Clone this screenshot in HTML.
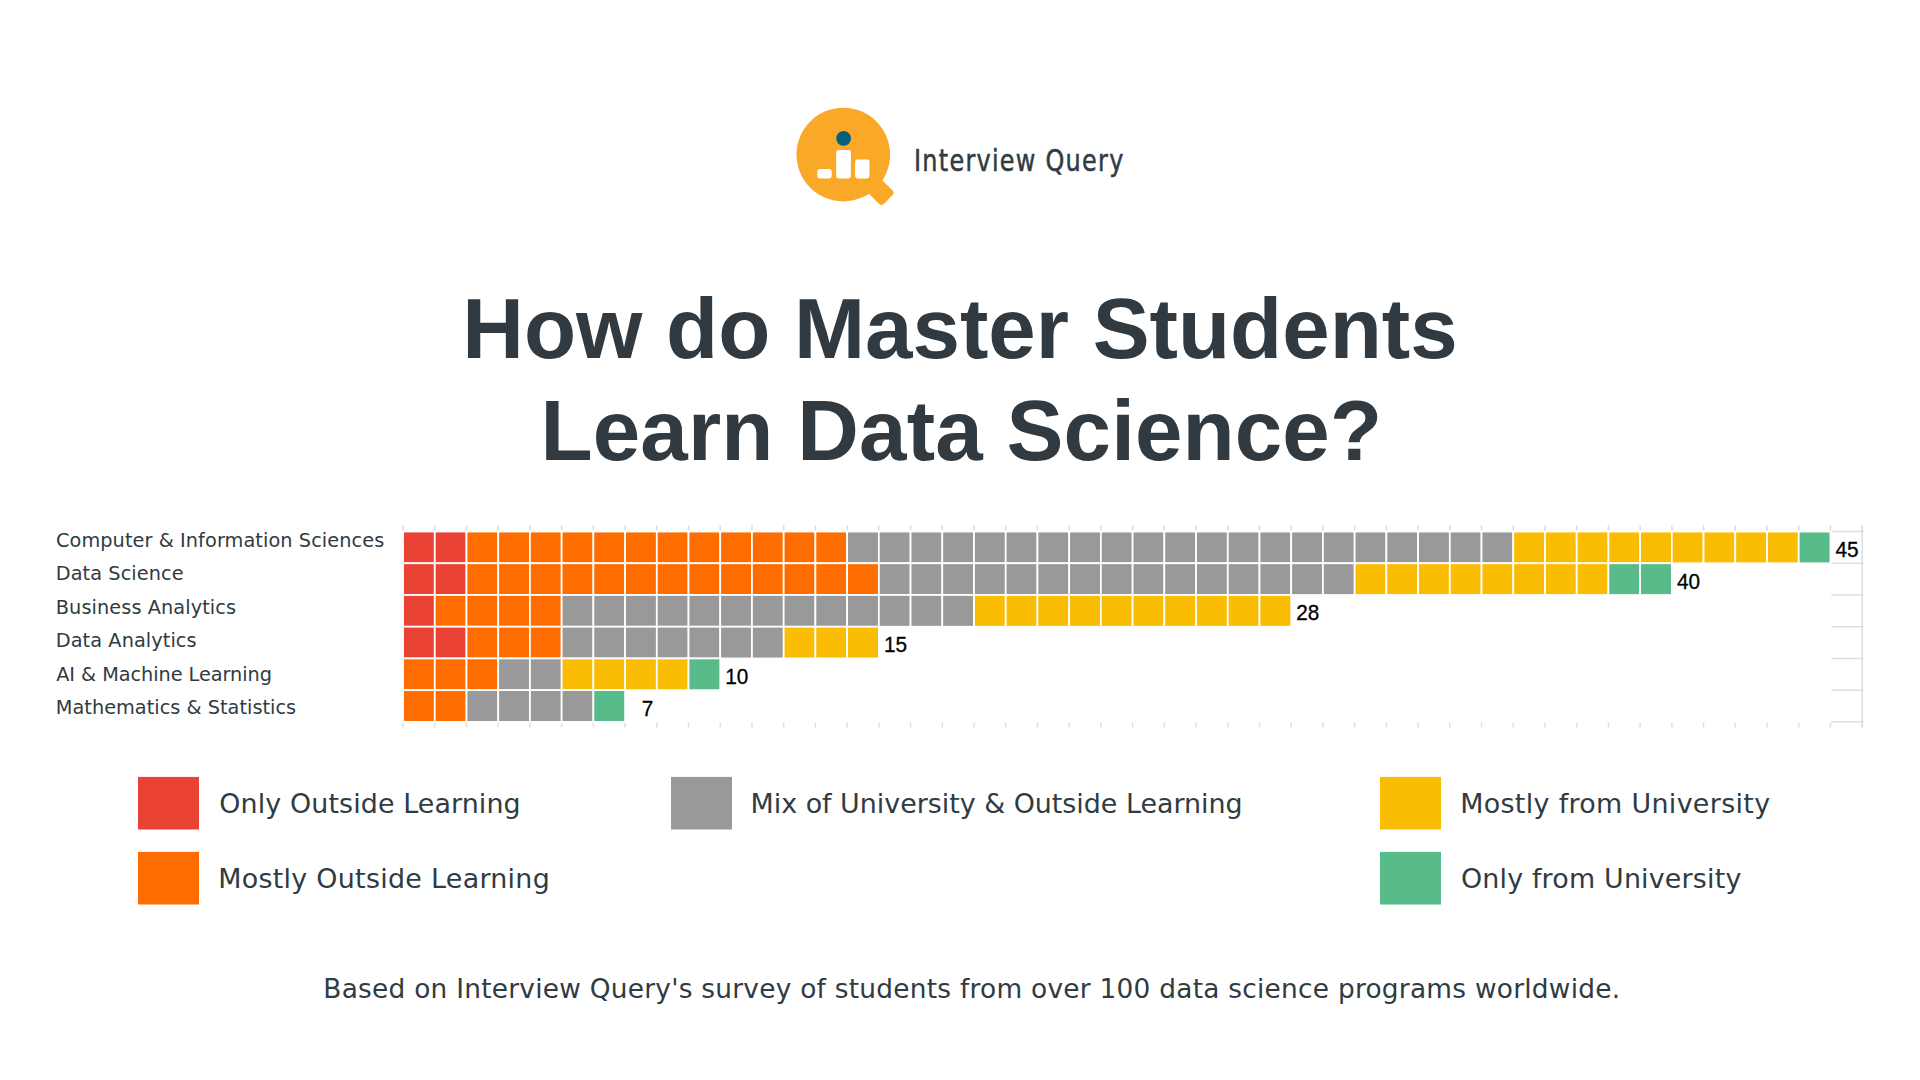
<!DOCTYPE html>
<html lang="en">
<head>
<meta charset="utf-8">
<title>How do Master Students Learn Data Science?</title>
<style>
html,body{margin:0;padding:0;background:#fff;}
body{width:1920px;height:1080px;position:relative;overflow:hidden;font-family:"Liberation Sans",sans-serif;color:#303b42;}
.abs{position:absolute;white-space:nowrap;transform-origin:0 0;line-height:1;}
.title{font-weight:bold;color:#303a40;}
.lab,.leg,.foot{font-family:"DejaVu Sans","Liberation Sans",sans-serif;}
svg{position:absolute;left:0;top:0;}
#chart rect{stroke:#fff;stroke-width:1.75;}
.num{font-family:"Liberation Sans",sans-serif;font-size:21.5px;fill:#000;stroke:#000;stroke-width:0.3px;}
.brand{font-family:"DejaVu Sans Condensed","DejaVu Sans","Liberation Sans",sans-serif;font-stretch:condensed;color:#303b42;-webkit-text-stroke:0.5px #303b42;}
</style>
</head>
<body>
<!-- LOGO -->
<svg width="1920" height="1080" viewBox="0 0 1920 1080">
<g id="logo" fill="#f9a828">
<circle cx="843.3" cy="154.6" r="46.8"/>
<rect x="30" y="-9.5" width="33.5" height="19" rx="3.6" transform="translate(843.3 154.6) rotate(45)"/>
<circle cx="843.6" cy="138.45" r="7.35" fill="#06607b"/>
<rect x="817.3" y="168.9" width="14.4" height="9.5" rx="2.4" fill="#fff"/>
<rect x="836.2" y="149.9" width="14.7" height="28.5" rx="2.4" fill="#fff"/>
<rect x="855.1" y="159.4" width="14.4" height="19" rx="2.4" fill="#fff"/>
</g>
<g id="chart">
<path d="M403.05 525.2V530.75M403.05 722.77V727.6M434.77 525.2V530.75M434.77 722.77V727.6M466.49 525.2V530.75M466.49 722.77V727.6M498.21 525.2V530.75M498.21 722.77V727.6M529.93 525.2V530.75M529.93 722.77V727.6M561.65 525.2V530.75M561.65 722.77V727.6M593.37 525.2V530.75M593.37 722.77V727.6M625.09 525.2V530.75M625.09 722.77V727.6M656.81 525.2V530.75M656.81 722.77V727.6M688.53 525.2V530.75M688.53 722.77V727.6M720.25 525.2V530.75M720.25 722.77V727.6M751.97 525.2V530.75M751.97 722.77V727.6M783.69 525.2V530.75M783.69 722.77V727.6M815.41 525.2V530.75M815.41 722.77V727.6M847.13 525.2V530.75M847.13 722.77V727.6M878.85 525.2V530.75M878.85 722.77V727.6M910.57 525.2V530.75M910.57 722.77V727.6M942.29 525.2V530.75M942.29 722.77V727.6M974.01 525.2V530.75M974.01 722.77V727.6M1005.73 525.2V530.75M1005.73 722.77V727.6M1037.45 525.2V530.75M1037.45 722.77V727.6M1069.17 525.2V530.75M1069.17 722.77V727.6M1100.89 525.2V530.75M1100.89 722.77V727.6M1132.61 525.2V530.75M1132.61 722.77V727.6M1164.33 525.2V530.75M1164.33 722.77V727.6M1196.05 525.2V530.75M1196.05 722.77V727.6M1227.77 525.2V530.75M1227.77 722.77V727.6M1259.49 525.2V530.75M1259.49 722.77V727.6M1291.21 525.2V530.75M1291.21 722.77V727.6M1322.93 525.2V530.75M1322.93 722.77V727.6M1354.65 525.2V530.75M1354.65 722.77V727.6M1386.37 525.2V530.75M1386.37 722.77V727.6M1418.09 525.2V530.75M1418.09 722.77V727.6M1449.81 525.2V530.75M1449.81 722.77V727.6M1481.53 525.2V530.75M1481.53 722.77V727.6M1513.25 525.2V530.75M1513.25 722.77V727.6M1544.97 525.2V530.75M1544.97 722.77V727.6M1576.69 525.2V530.75M1576.69 722.77V727.6M1608.41 525.2V530.75M1608.41 722.77V727.6M1640.13 525.2V530.75M1640.13 722.77V727.6M1671.85 525.2V530.75M1671.85 722.77V727.6M1703.57 525.2V530.75M1703.57 722.77V727.6M1735.29 525.2V530.75M1735.29 722.77V727.6M1767.01 525.2V530.75M1767.01 722.77V727.6M1798.73 525.2V530.75M1798.73 722.77V727.6M1830.45 525.2V530.75M1830.45 722.77V727.6M1862.17 525.2V530.75M1862.17 722.77V727.6" stroke="#dedede" stroke-width="1.5" fill="none"/>
<path d="M1831.25 531.55H1863.77M1831.25 563.27H1863.77M1831.25 594.99H1863.77M1831.25 626.71H1863.77M1831.25 658.43H1863.77M1831.25 690.15H1863.77M1831.25 721.87H1863.77M1862.17 525.2V727.6" stroke="#dedede" stroke-width="1.5" fill="none"/>
<rect x="403.05" y="531.55" width="31.72" height="31.72" fill="#ea4335"/>
<rect x="434.77" y="531.55" width="31.72" height="31.72" fill="#ea4335"/>
<rect x="466.49" y="531.55" width="31.72" height="31.72" fill="#ff6d01"/>
<rect x="498.21" y="531.55" width="31.72" height="31.72" fill="#ff6d01"/>
<rect x="529.93" y="531.55" width="31.72" height="31.72" fill="#ff6d01"/>
<rect x="561.65" y="531.55" width="31.72" height="31.72" fill="#ff6d01"/>
<rect x="593.37" y="531.55" width="31.72" height="31.72" fill="#ff6d01"/>
<rect x="625.09" y="531.55" width="31.72" height="31.72" fill="#ff6d01"/>
<rect x="656.81" y="531.55" width="31.72" height="31.72" fill="#ff6d01"/>
<rect x="688.53" y="531.55" width="31.72" height="31.72" fill="#ff6d01"/>
<rect x="720.25" y="531.55" width="31.72" height="31.72" fill="#ff6d01"/>
<rect x="751.97" y="531.55" width="31.72" height="31.72" fill="#ff6d01"/>
<rect x="783.69" y="531.55" width="31.72" height="31.72" fill="#ff6d01"/>
<rect x="815.41" y="531.55" width="31.72" height="31.72" fill="#ff6d01"/>
<rect x="847.13" y="531.55" width="31.72" height="31.72" fill="#999999"/>
<rect x="878.85" y="531.55" width="31.72" height="31.72" fill="#999999"/>
<rect x="910.57" y="531.55" width="31.72" height="31.72" fill="#999999"/>
<rect x="942.29" y="531.55" width="31.72" height="31.72" fill="#999999"/>
<rect x="974.01" y="531.55" width="31.72" height="31.72" fill="#999999"/>
<rect x="1005.73" y="531.55" width="31.72" height="31.72" fill="#999999"/>
<rect x="1037.45" y="531.55" width="31.72" height="31.72" fill="#999999"/>
<rect x="1069.17" y="531.55" width="31.72" height="31.72" fill="#999999"/>
<rect x="1100.89" y="531.55" width="31.72" height="31.72" fill="#999999"/>
<rect x="1132.61" y="531.55" width="31.72" height="31.72" fill="#999999"/>
<rect x="1164.33" y="531.55" width="31.72" height="31.72" fill="#999999"/>
<rect x="1196.05" y="531.55" width="31.72" height="31.72" fill="#999999"/>
<rect x="1227.77" y="531.55" width="31.72" height="31.72" fill="#999999"/>
<rect x="1259.49" y="531.55" width="31.72" height="31.72" fill="#999999"/>
<rect x="1291.21" y="531.55" width="31.72" height="31.72" fill="#999999"/>
<rect x="1322.93" y="531.55" width="31.72" height="31.72" fill="#999999"/>
<rect x="1354.65" y="531.55" width="31.72" height="31.72" fill="#999999"/>
<rect x="1386.37" y="531.55" width="31.72" height="31.72" fill="#999999"/>
<rect x="1418.09" y="531.55" width="31.72" height="31.72" fill="#999999"/>
<rect x="1449.81" y="531.55" width="31.72" height="31.72" fill="#999999"/>
<rect x="1481.53" y="531.55" width="31.72" height="31.72" fill="#999999"/>
<rect x="1513.25" y="531.55" width="31.72" height="31.72" fill="#fbbc04"/>
<rect x="1544.97" y="531.55" width="31.72" height="31.72" fill="#fbbc04"/>
<rect x="1576.69" y="531.55" width="31.72" height="31.72" fill="#fbbc04"/>
<rect x="1608.41" y="531.55" width="31.72" height="31.72" fill="#fbbc04"/>
<rect x="1640.13" y="531.55" width="31.72" height="31.72" fill="#fbbc04"/>
<rect x="1671.85" y="531.55" width="31.72" height="31.72" fill="#fbbc04"/>
<rect x="1703.57" y="531.55" width="31.72" height="31.72" fill="#fbbc04"/>
<rect x="1735.29" y="531.55" width="31.72" height="31.72" fill="#fbbc04"/>
<rect x="1767.01" y="531.55" width="31.72" height="31.72" fill="#fbbc04"/>
<rect x="1798.73" y="531.55" width="31.72" height="31.72" fill="#57bb8a"/>
<text transform="translate(1858.55 556.95) scale(0.965 1)" text-anchor="end" class="num">45</text>
<rect x="403.05" y="563.27" width="31.72" height="31.72" fill="#ea4335"/>
<rect x="434.77" y="563.27" width="31.72" height="31.72" fill="#ea4335"/>
<rect x="466.49" y="563.27" width="31.72" height="31.72" fill="#ff6d01"/>
<rect x="498.21" y="563.27" width="31.72" height="31.72" fill="#ff6d01"/>
<rect x="529.93" y="563.27" width="31.72" height="31.72" fill="#ff6d01"/>
<rect x="561.65" y="563.27" width="31.72" height="31.72" fill="#ff6d01"/>
<rect x="593.37" y="563.27" width="31.72" height="31.72" fill="#ff6d01"/>
<rect x="625.09" y="563.27" width="31.72" height="31.72" fill="#ff6d01"/>
<rect x="656.81" y="563.27" width="31.72" height="31.72" fill="#ff6d01"/>
<rect x="688.53" y="563.27" width="31.72" height="31.72" fill="#ff6d01"/>
<rect x="720.25" y="563.27" width="31.72" height="31.72" fill="#ff6d01"/>
<rect x="751.97" y="563.27" width="31.72" height="31.72" fill="#ff6d01"/>
<rect x="783.69" y="563.27" width="31.72" height="31.72" fill="#ff6d01"/>
<rect x="815.41" y="563.27" width="31.72" height="31.72" fill="#ff6d01"/>
<rect x="847.13" y="563.27" width="31.72" height="31.72" fill="#ff6d01"/>
<rect x="878.85" y="563.27" width="31.72" height="31.72" fill="#999999"/>
<rect x="910.57" y="563.27" width="31.72" height="31.72" fill="#999999"/>
<rect x="942.29" y="563.27" width="31.72" height="31.72" fill="#999999"/>
<rect x="974.01" y="563.27" width="31.72" height="31.72" fill="#999999"/>
<rect x="1005.73" y="563.27" width="31.72" height="31.72" fill="#999999"/>
<rect x="1037.45" y="563.27" width="31.72" height="31.72" fill="#999999"/>
<rect x="1069.17" y="563.27" width="31.72" height="31.72" fill="#999999"/>
<rect x="1100.89" y="563.27" width="31.72" height="31.72" fill="#999999"/>
<rect x="1132.61" y="563.27" width="31.72" height="31.72" fill="#999999"/>
<rect x="1164.33" y="563.27" width="31.72" height="31.72" fill="#999999"/>
<rect x="1196.05" y="563.27" width="31.72" height="31.72" fill="#999999"/>
<rect x="1227.77" y="563.27" width="31.72" height="31.72" fill="#999999"/>
<rect x="1259.49" y="563.27" width="31.72" height="31.72" fill="#999999"/>
<rect x="1291.21" y="563.27" width="31.72" height="31.72" fill="#999999"/>
<rect x="1322.93" y="563.27" width="31.72" height="31.72" fill="#999999"/>
<rect x="1354.65" y="563.27" width="31.72" height="31.72" fill="#fbbc04"/>
<rect x="1386.37" y="563.27" width="31.72" height="31.72" fill="#fbbc04"/>
<rect x="1418.09" y="563.27" width="31.72" height="31.72" fill="#fbbc04"/>
<rect x="1449.81" y="563.27" width="31.72" height="31.72" fill="#fbbc04"/>
<rect x="1481.53" y="563.27" width="31.72" height="31.72" fill="#fbbc04"/>
<rect x="1513.25" y="563.27" width="31.72" height="31.72" fill="#fbbc04"/>
<rect x="1544.97" y="563.27" width="31.72" height="31.72" fill="#fbbc04"/>
<rect x="1576.69" y="563.27" width="31.72" height="31.72" fill="#fbbc04"/>
<rect x="1608.41" y="563.27" width="31.72" height="31.72" fill="#57bb8a"/>
<rect x="1640.13" y="563.27" width="31.72" height="31.72" fill="#57bb8a"/>
<text transform="translate(1699.95 588.67) scale(0.965 1)" text-anchor="end" class="num">40</text>
<rect x="403.05" y="594.99" width="31.72" height="31.72" fill="#ea4335"/>
<rect x="434.77" y="594.99" width="31.72" height="31.72" fill="#ff6d01"/>
<rect x="466.49" y="594.99" width="31.72" height="31.72" fill="#ff6d01"/>
<rect x="498.21" y="594.99" width="31.72" height="31.72" fill="#ff6d01"/>
<rect x="529.93" y="594.99" width="31.72" height="31.72" fill="#ff6d01"/>
<rect x="561.65" y="594.99" width="31.72" height="31.72" fill="#999999"/>
<rect x="593.37" y="594.99" width="31.72" height="31.72" fill="#999999"/>
<rect x="625.09" y="594.99" width="31.72" height="31.72" fill="#999999"/>
<rect x="656.81" y="594.99" width="31.72" height="31.72" fill="#999999"/>
<rect x="688.53" y="594.99" width="31.72" height="31.72" fill="#999999"/>
<rect x="720.25" y="594.99" width="31.72" height="31.72" fill="#999999"/>
<rect x="751.97" y="594.99" width="31.72" height="31.72" fill="#999999"/>
<rect x="783.69" y="594.99" width="31.72" height="31.72" fill="#999999"/>
<rect x="815.41" y="594.99" width="31.72" height="31.72" fill="#999999"/>
<rect x="847.13" y="594.99" width="31.72" height="31.72" fill="#999999"/>
<rect x="878.85" y="594.99" width="31.72" height="31.72" fill="#999999"/>
<rect x="910.57" y="594.99" width="31.72" height="31.72" fill="#999999"/>
<rect x="942.29" y="594.99" width="31.72" height="31.72" fill="#999999"/>
<rect x="974.01" y="594.99" width="31.72" height="31.72" fill="#fbbc04"/>
<rect x="1005.73" y="594.99" width="31.72" height="31.72" fill="#fbbc04"/>
<rect x="1037.45" y="594.99" width="31.72" height="31.72" fill="#fbbc04"/>
<rect x="1069.17" y="594.99" width="31.72" height="31.72" fill="#fbbc04"/>
<rect x="1100.89" y="594.99" width="31.72" height="31.72" fill="#fbbc04"/>
<rect x="1132.61" y="594.99" width="31.72" height="31.72" fill="#fbbc04"/>
<rect x="1164.33" y="594.99" width="31.72" height="31.72" fill="#fbbc04"/>
<rect x="1196.05" y="594.99" width="31.72" height="31.72" fill="#fbbc04"/>
<rect x="1227.77" y="594.99" width="31.72" height="31.72" fill="#fbbc04"/>
<rect x="1259.49" y="594.99" width="31.72" height="31.72" fill="#fbbc04"/>
<text transform="translate(1319.31 620.39) scale(0.965 1)" text-anchor="end" class="num">28</text>
<rect x="403.05" y="626.71" width="31.72" height="31.72" fill="#ea4335"/>
<rect x="434.77" y="626.71" width="31.72" height="31.72" fill="#ea4335"/>
<rect x="466.49" y="626.71" width="31.72" height="31.72" fill="#ff6d01"/>
<rect x="498.21" y="626.71" width="31.72" height="31.72" fill="#ff6d01"/>
<rect x="529.93" y="626.71" width="31.72" height="31.72" fill="#ff6d01"/>
<rect x="561.65" y="626.71" width="31.72" height="31.72" fill="#999999"/>
<rect x="593.37" y="626.71" width="31.72" height="31.72" fill="#999999"/>
<rect x="625.09" y="626.71" width="31.72" height="31.72" fill="#999999"/>
<rect x="656.81" y="626.71" width="31.72" height="31.72" fill="#999999"/>
<rect x="688.53" y="626.71" width="31.72" height="31.72" fill="#999999"/>
<rect x="720.25" y="626.71" width="31.72" height="31.72" fill="#999999"/>
<rect x="751.97" y="626.71" width="31.72" height="31.72" fill="#999999"/>
<rect x="783.69" y="626.71" width="31.72" height="31.72" fill="#fbbc04"/>
<rect x="815.41" y="626.71" width="31.72" height="31.72" fill="#fbbc04"/>
<rect x="847.13" y="626.71" width="31.72" height="31.72" fill="#fbbc04"/>
<text transform="translate(906.95 652.11) scale(0.965 1)" text-anchor="end" class="num">15</text>
<rect x="403.05" y="658.43" width="31.72" height="31.72" fill="#ff6d01"/>
<rect x="434.77" y="658.43" width="31.72" height="31.72" fill="#ff6d01"/>
<rect x="466.49" y="658.43" width="31.72" height="31.72" fill="#ff6d01"/>
<rect x="498.21" y="658.43" width="31.72" height="31.72" fill="#999999"/>
<rect x="529.93" y="658.43" width="31.72" height="31.72" fill="#999999"/>
<rect x="561.65" y="658.43" width="31.72" height="31.72" fill="#fbbc04"/>
<rect x="593.37" y="658.43" width="31.72" height="31.72" fill="#fbbc04"/>
<rect x="625.09" y="658.43" width="31.72" height="31.72" fill="#fbbc04"/>
<rect x="656.81" y="658.43" width="31.72" height="31.72" fill="#fbbc04"/>
<rect x="688.53" y="658.43" width="31.72" height="31.72" fill="#57bb8a"/>
<text transform="translate(748.35 683.83) scale(0.965 1)" text-anchor="end" class="num">10</text>
<rect x="403.05" y="690.15" width="31.72" height="31.72" fill="#ff6d01"/>
<rect x="434.77" y="690.15" width="31.72" height="31.72" fill="#ff6d01"/>
<rect x="466.49" y="690.15" width="31.72" height="31.72" fill="#999999"/>
<rect x="498.21" y="690.15" width="31.72" height="31.72" fill="#999999"/>
<rect x="529.93" y="690.15" width="31.72" height="31.72" fill="#999999"/>
<rect x="561.65" y="690.15" width="31.72" height="31.72" fill="#999999"/>
<rect x="593.37" y="690.15" width="31.72" height="31.72" fill="#57bb8a"/>
<text transform="translate(653.19 715.55) scale(0.965 1)" text-anchor="end" class="num">7</text>
</g>
<g id="legend-swatches">
<rect x="138" y="776.9" width="61" height="52.6" fill="#ea4335"/>
<rect x="138" y="851.9" width="61" height="52.6" fill="#ff6d01"/>
<rect x="671" y="776.9" width="61" height="52.6" fill="#999999"/>
<rect x="1380" y="776.9" width="61" height="52.6" fill="#fbbc04"/>
<rect x="1380" y="851.9" width="61" height="52.6" fill="#57bb8a"/>
</g>
</svg>
<div class="abs brand" id="brand" style="left:914.02px;top:144.91px;font-size:30.9px;letter-spacing:1.489px;transform:scaleX(0.86);">Interview Query</div>

<div class="abs title" id="t1" style="left:462.31px;top:285.81px;font-size:85.33px;letter-spacing:-0.010px;">How do Master Students</div>
<div class="abs title" id="t2" style="left:540.57px;top:388.01px;font-size:85.33px;letter-spacing:0.116px;">Learn Data Science?</div>

<div class="abs lab" id="l1" style="left:55.97px;top:530.91px;font-size:19.3px;letter-spacing:0.085px;">Computer &amp; Information Sciences</div>
<div class="abs lab" id="l2" style="left:55.80px;top:564.31px;font-size:19.3px;letter-spacing:0.076px;">Data Science</div>
<div class="abs lab" id="l3" style="left:55.80px;top:597.70px;font-size:19.3px;letter-spacing:0.090px;">Business Analytics</div>
<div class="abs lab" id="l4" style="left:55.80px;top:631.21px;font-size:19.3px;letter-spacing:0.081px;">Data Analytics</div>
<div class="abs lab" id="l5" style="left:56.24px;top:664.60px;font-size:19.3px;letter-spacing:-0.052px;">AI &amp; Machine Learning</div>
<div class="abs lab" id="l6" style="left:55.80px;top:698.01px;font-size:19.3px;letter-spacing:0.028px;">Mathematics &amp; Statistics</div>


<div class="abs leg" id="g1" style="left:219.32px;top:790.81px;font-size:26.9px;letter-spacing:0.102px;">Only Outside Learning</div>
<div class="abs leg" id="g2" style="left:218.19px;top:865.81px;font-size:26.9px;letter-spacing:0.286px;">Mostly Outside Learning</div>
<div class="abs leg" id="g3" style="left:750.59px;top:790.81px;font-size:26.9px;letter-spacing:-0.013px;">Mix of University &amp; Outside Learning</div>
<div class="abs leg" id="g4" style="left:1460.19px;top:790.81px;font-size:26.9px;letter-spacing:0.332px;">Mostly from University</div>
<div class="abs leg" id="g5" style="left:1460.92px;top:865.81px;font-size:26.9px;letter-spacing:0.184px;">Only from University</div>

<div class="abs foot" id="f1" style="left:323.32px;top:975.50px;font-size:26.4px;letter-spacing:0.245px;">Based on Interview Query's survey of students from over 100 data science programs worldwide.</div>
</body>
</html>
